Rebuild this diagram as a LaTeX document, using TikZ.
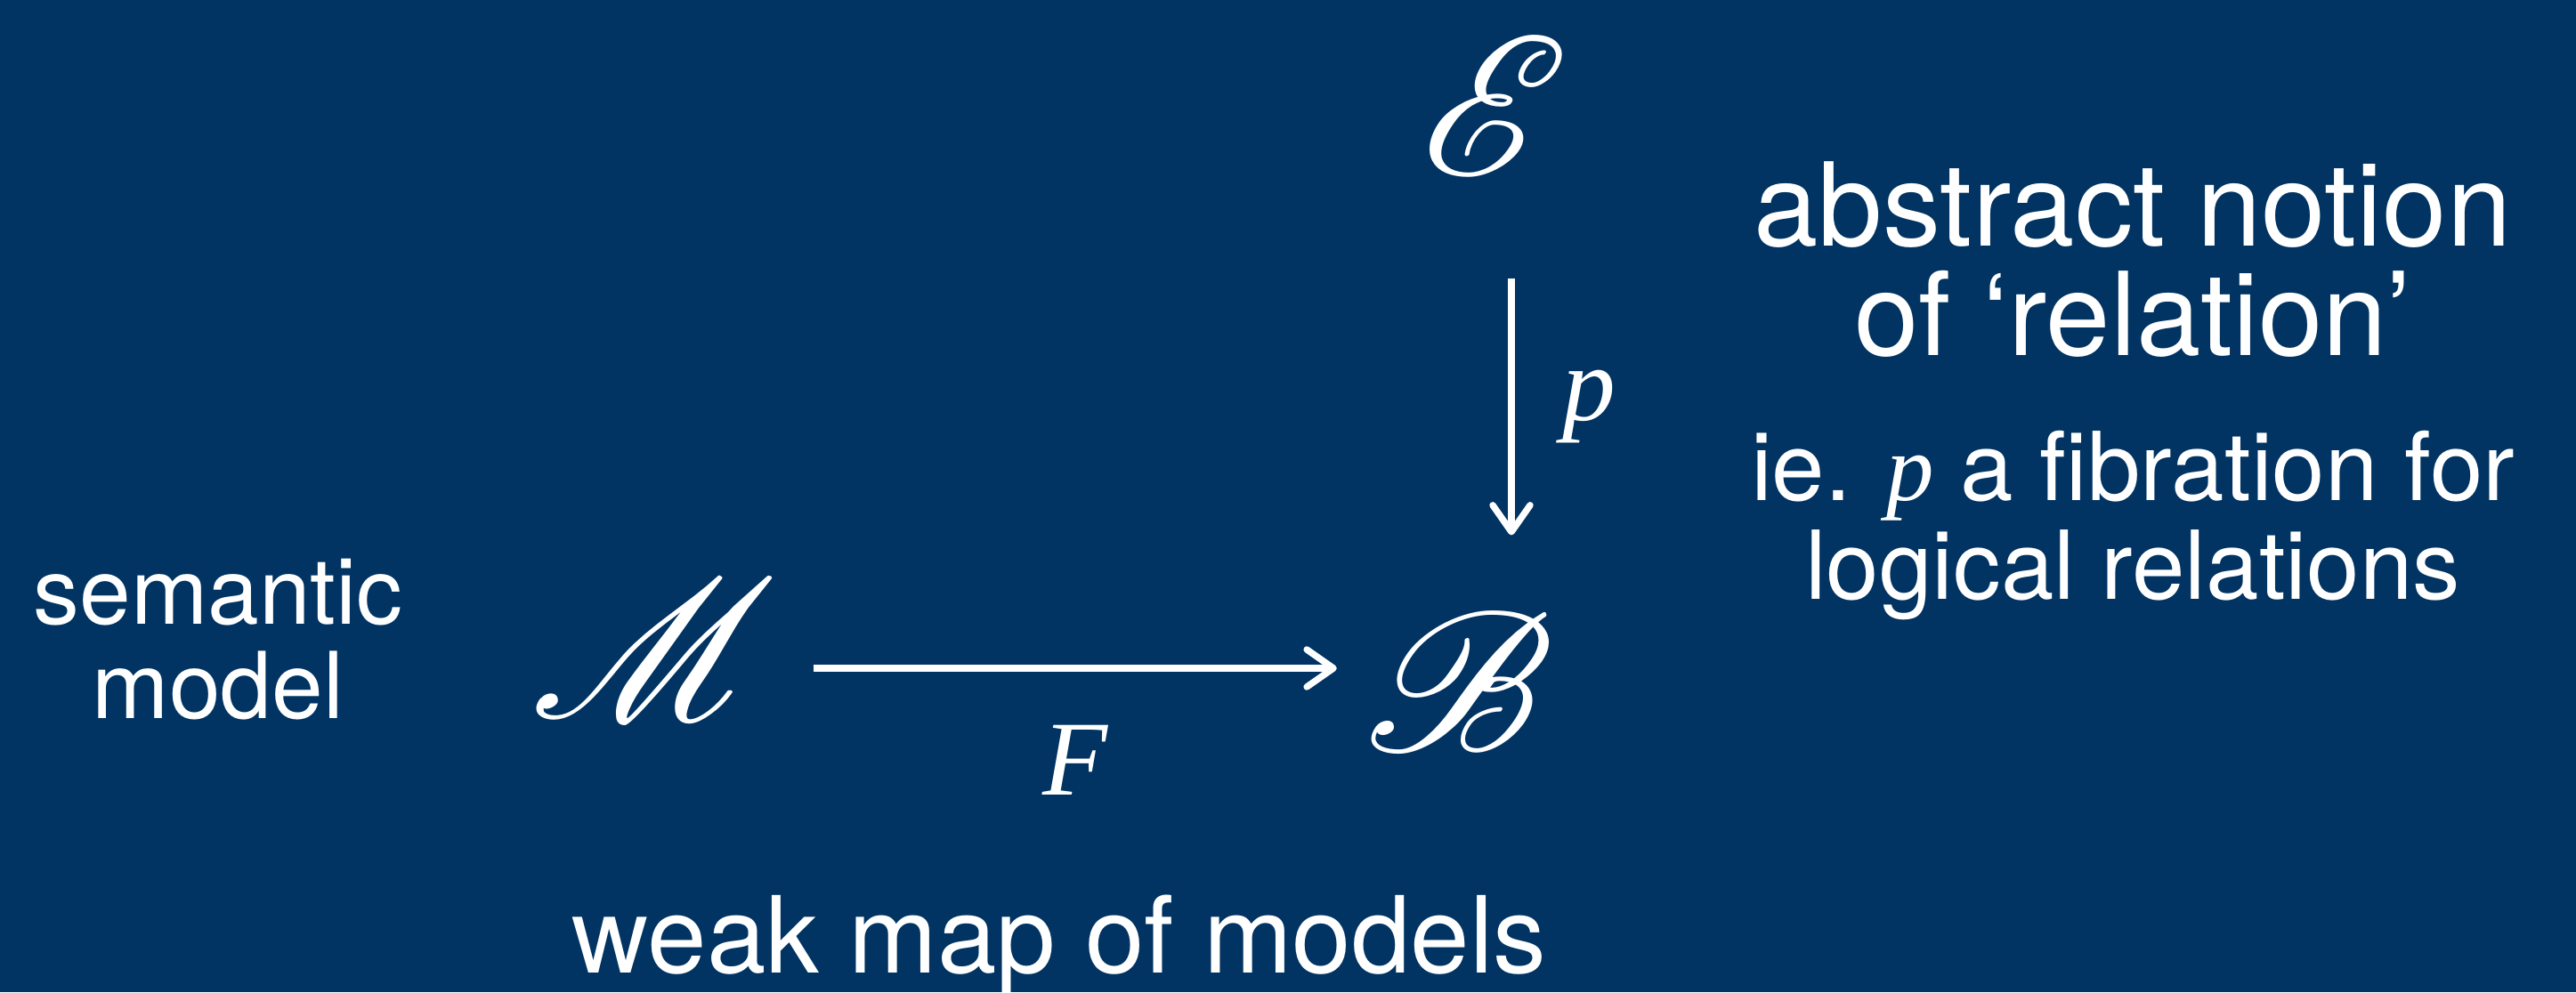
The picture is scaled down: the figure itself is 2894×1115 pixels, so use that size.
\documentclass[tikz,border=0pt]{standalone}
\usepackage{fontspec}
\usepackage{mathrsfs}
\usepackage{graphicx}
\setmainfont{TeX Gyre Heros}
\newfontfamily\tmsfont{Liberation Serif}
\usetikzlibrary{arrows.meta,calc}
\definecolor{bg}{HTML}{013462}
\def\mv#1{{\tmsfont\itshape #1}}
\def\scr#1{\scalebox{2.55}{\fontsize{24.88}{25}\selectfont$\mathscr{#1}$}}

\begin{document}
\begin{tikzpicture}[x=0.01cm,y=0.01cm,white,
    arr/.style={-{Straight Barb[length=0.3cm,width=0.42cm,line cap=round,line join=round]},line width=2.1pt},
    lbl/.style={font=\fontsize{34}{34}\selectfont}]
  \fill[bg] (0,0) rectangle (2894,1115);
  \useasboundingbox (0,0) rectangle (2894,1115);
  % objects
  \node (E) at (1680,996) {\scr{E}};
  \node (M) at (735,386) {\scr{M}};
  \node (B) at (1639,349) {\scr{B}};
  % maps
  \draw[arr] ($(E.south)+(18,-103)$) -- ($(E.south |- B.north)+(18,74)$)
    node[lbl,midway,right=12pt] (p) {\mv{p}};
  \draw[arr] ($(M.east)+(28,-22)$) -- ($(M.east -| B.west)+(-19,-22)$)
    node[lbl,midway,below=14pt] (F) {\mv{F}};
  % comments
  \node[align=center,anchor=base,font=\fontsize{29.5}{30.4}\selectfont] (sem) at (245,307) {semantic\\model};
  \node[anchor=base,font=\fontsize{34}{34}\selectfont] (weak) at (1190,22) {weak map of models};
  \node[align=center,anchor=base,font=\fontsize{37}{35}\selectfont] (abs) at (2396,715) {abstract notion\\of ‘relation’};
  \node[align=center,anchor=base,font=\fontsize{30.4}{31.6}\selectfont] (fib) at (2396,441) {ie. \mv{p} a fibration for\\logical relations};
\end{tikzpicture}
\end{document}
